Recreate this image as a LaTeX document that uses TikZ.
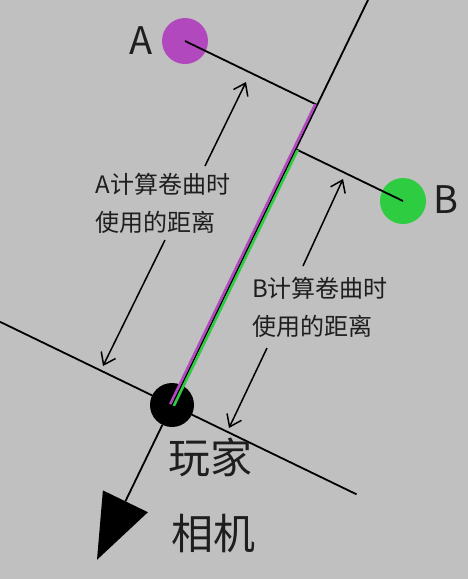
\documentclass[tikz,border=0pt]{standalone}
\usepackage{fontspec}
\setmainfont{Noto Sans CJK SC}
\usetikzlibrary{arrows.meta, calc}
\definecolor{BackGray}{RGB}{191, 192, 191}
\definecolor{PointPurple}{RGB}{178, 72, 190}
\definecolor{PointGreen}{RGB}{46, 204, 64}
\definecolor{TextDark}{RGB}{30, 30, 30}

\begin{document}
\begin{tikzpicture}[x=1pt, y=-1pt,
    dot/.style={circle, inner sep=0pt, minimum size=46pt},
    axisline/.style={line width=1.8pt},
    dimarrow/.style={line width=1.5pt, -{Straight Barb[length=11pt, width=16pt, line width=1.5pt]}},
    dimtext/.style={font=\fontsize{24}{38}\selectfont, align=left, text=TextDark},
    biglabel/.style={font=\fontsize{42}{42}\selectfont, text=TextDark}]
                % Background
                \fill[BackGray] (0, 0) rectangle (468, 579);
                \useasboundingbox (0, 0) rectangle (468, 579);

                % Points and player
                \node[dot, fill=PointPurple] (adot) at (185, 41) {};
                \node[dot, fill=PointGreen] (bdot) at (403, 201) {};
                \node[dot, fill=black, minimum size=44pt] (player) at (172, 405) {};
                \node[font=\fontsize{38}{38}\selectfont, text=TextDark] (alab) at (141, 41) {A};
                \node[font=\fontsize{38}{38}\selectfont, text=TextDark] (blab) at (446, 200) {B};

                % View line and its perpendicular
                \coordinate (top) at (370.4, -5);
                \coordinate (perpl) at (0, 321.8);
                \coordinate (perpr) at (356.5, 494.3);
                \coordinate (afoot) at ($(player.center)!(adot.center)!(top)$);
                \coordinate (bfoot) at ($(player.center)!(bdot.center)!(top)$);
                \draw[axisline] (perpl) -- (perpr);
                \draw[axisline] (top) -- (player.center);
                \draw[axisline] (adot.center) -- (afoot);
                \draw[axisline] (bdot.center) -- (bfoot);

                % Distances used for the curl
                \draw[PointPurple, line width=2.6pt] ($(afoot)+(-1.8, -0.9)$) -- ($(player.center)+(-1.8, -0.9)$);
                \draw[PointGreen, line width=2.6pt] ($(bfoot)+(1.8, 0.9)$) -- ($(player.center)+(1.8, 0.9)$);

                % Camera
                \coordinate (cam) at (125.4, 501.3);
                \fill[black] (102.9, 490.4) -- (147.9, 512.2) -- (97, 559.8) -- cycle;
                \draw[axisline] (player) -- (cam);

                % Labels
                \node[dimtext] (alabel) at (163, 203) {A计算卷曲时\\使用的距离};
                \node[dimtext] (blabel) at (320, 307) {B计算卷曲时\\使用的距离};
                \node[biglabel] (playerlab) at (210, 457) {玩家};
                \node[biglabel] (camlab) at (213, 534) {相机};

                % Arrows
                \coordinate (aup0) at (205, 166);
                \coordinate (aup1) at (246, 82);
                \coordinate (adn0) at (165, 240);
                \coordinate (adn1) at (103, 366);
                \coordinate (bup0) at (303, 266);
                \coordinate (bup1) at (343, 179);
                \coordinate (bdn0) at (267, 348);
                \coordinate (bdn1) at (229, 428);
                \draw[dimarrow] (aup0) -- (aup1);
                \draw[dimarrow] (adn0) -- (adn1);
                \draw[dimarrow] (bup0) -- (bup1);
                \draw[dimarrow] (bdn0) -- (bdn1);
\end{tikzpicture}
\end{document}
